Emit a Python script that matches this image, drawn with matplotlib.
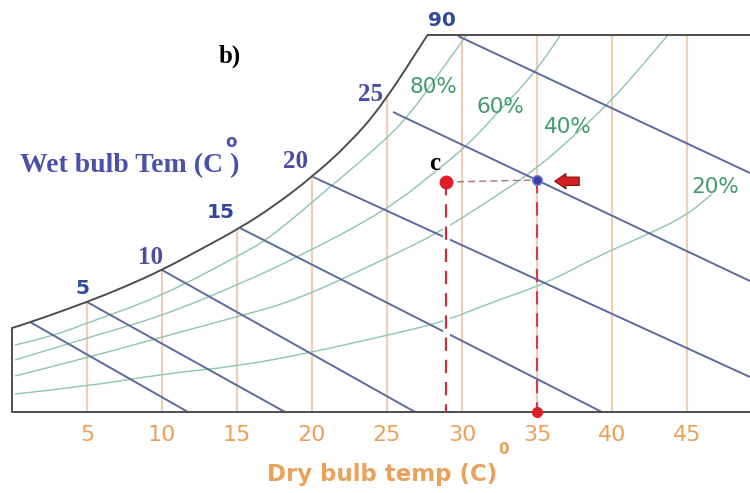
import numpy as np
import matplotlib
matplotlib.use('Agg')
import matplotlib.pyplot as plt
from matplotlib.path import Path
from matplotlib.patches import PathPatch, Polygon, FancyArrowPatch

# dry bulb temperature ticks (C)
dryBulbTicks = [5, 10, 15, 20, 25, 30, 35, 40, 45]

# saturation curve: dry bulb (C) vs humidity ratio (g/kg)
satTemp = [0, 1.3, 5, 7.5, 10, 12.5, 15.2, 17.5, 20, 22.5, 24.7, 27.7]
satHum = [6.72, 7.2, 8.8, 10.0, 11.36, 12.96, 14.72, 16.5, 18.8, 21.5, 24.56, 30.16]
topHum = 30.16
rightTemp = 49.2

# wet bulb lines (start near saturation, end at chart edge)
wetStartTemp = [1.2, 5, 10, 15.2, 20.07, 25.4, 29.73]
wetStartHum = [7.2, 8.8, 11.36, 14.72, 18.8, 24.0, 30.08]
wetEndTemp = [11.73, 18.2, 26.87, 39.33, 49.2, 49.2, 49.2]
wetEndHum = [0, 0, 0, 0, 2.8, 10.48, 19.12]

# wet bulb labels on the saturation curve
wetLabels = ['5', '10', '15', '20', '25', '90']
wetLabelTemp = [4.67, 9.2, 13.93, 18.87, 23.87, 28.67]
wetLabelHum = [9.84, 12.32, 15.92, 20.0, 25.36, 31.28]
wetLabelSerif = [False, True, False, True, True, False]

# relative humidity curves
rh80Temp = [0.2, 2.53, 5.2, 10, 15.2, 17.2, 21.2, 24.53, 26.53, 28.53, 30.27]
rh80Hum = [5.36, 6.0, 7.2, 9.28, 12.56, 13.92, 18.0, 21.36, 23.8, 27.2, 30.08]
rh60Temp = [0.2, 5.2, 10, 15.2, 19.2, 25, 28.53, 30.53, 32.53, 34.73, 36.53]
rh60Hum = [4.16, 6.0, 7.68, 10.24, 12.48, 16.16, 19.52, 21.52, 24.16, 26.96, 30.08]
rh40Temp = [0.2, 5.2, 10, 15.2, 19, 25, 28.53, 31.87, 34.87, 37.53, 39.87, 41.87, 43.67]
rh40Hum = [2.88, 4.4, 6.0, 7.68, 8.96, 12.32, 14.4, 16.96, 19.36, 22.16, 24.8, 27.52, 30.08]
rh20Temp = [0.2, 5.2, 10, 15.2, 20.07, 24.2, 28.53, 31.87, 35.67, 39.2, 42.73, 45, 46.67]
rh20Hum = [1.44, 2.08, 3.04, 3.68, 4.8, 5.92, 7.12, 8.72, 10.32, 12.56, 14.4, 15.76, 17.44]

rhLabels = ['80%', '60%', '40%', '20%']
rhLabelTemp = [28.07, 32.53, 37.07, 46.87]
rhLabelHum = [26.0, 24.4, 22.8, 18.0]

# state points
pointC = (28.93, 18.4)
pointBlue = (35.0, 18.56)

BOUND = '#4d4d4d'
WETCOL = '#5b6aa0'
RHCOL = '#8cc5ad'
VERTCOL = '#f1cfae'
ORANGE = '#e9a15c'
GREENTXT = '#3f9a6e'


def smoothPath(xs, ys):
    """Quadratic bezier through the read points (points used as controls)."""
    verts = [(xs[0], ys[0])]
    codes = [Path.MOVETO]
    for i in range(1, len(xs) - 1):
        verts += [(xs[i], ys[i]), ((xs[i] + xs[i + 1]) / 2, (ys[i] + ys[i + 1]) / 2)]
        codes += [Path.CURVE3, Path.CURVE3]
    verts.append((xs[-1], ys[-1]))
    codes.append(Path.LINETO)
    return Path(verts, codes)


def drawChart(ax):
    # clip region of the chart
    clipVerts = [(0, 0)] + list(zip(satTemp, satHum)) + [(rightTemp, topHum), (rightTemp, 0)]
    clip = Polygon(clipVerts, closed=True, transform=ax.transData, fill=False, lw=0)
    ax.add_patch(clip)

    # vertical dry bulb lines
    vl = ax.vlines(dryBulbTicks, 0, topHum + 1, colors=VERTCOL, lw=1.5, zorder=1)
    vl.set_clip_path(clip)

    # relative humidity curves
    for xs, ys in [(rh80Temp, rh80Hum), (rh60Temp, rh60Hum), (rh40Temp, rh40Hum), (rh20Temp, rh20Hum)]:
        p = PathPatch(smoothPath(xs, ys), fill=False, ec=RHCOL, lw=1.0, zorder=2)
        ax.add_patch(p)
        p.set_clip_path(clip)

    # wet bulb lines
    for i in range(len(wetStartTemp)):
        ln, = ax.plot([wetStartTemp[i], wetEndTemp[i]], [wetStartHum[i], wetEndHum[i]],
                      color=WETCOL, lw=1.4, zorder=3, solid_capstyle='butt')
        ln.set_clip_path(clip)

    # boundary
    sat = PathPatch(smoothPath(satTemp, satHum), fill=False, ec=BOUND, lw=1.4, zorder=5)
    ax.add_patch(sat)
    ax.plot([0, 0, rightTemp], [satHum[0], 0, 0], color=BOUND, lw=1.4, zorder=5)
    ax.plot([satTemp[-1], rightTemp], [topHum, topHum], color=BOUND, lw=1.4, zorder=5)


def drawLabels(ax):
    sans = 'DejaVu Sans'
    serif = 'Liberation Serif'
    for t in dryBulbTicks:
        ax.text(t, -1.84, str(t), color=ORANGE, fontsize=16, family=sans,
                ha='center', va='center')
    ax.text(17.0, -4.96, 'Dry bulb temp (C)', color=ORANGE, fontsize=16.5,
            family=sans, weight='bold', ha='left', va='center')
    ax.text(32.75, -3.0, '0', color=ORANGE, fontsize=11, family=sans,
            weight='bold', ha='center', va='center')

    for lab, x, y, sf in zip(wetLabels, wetLabelTemp, wetLabelHum, wetLabelSerif):
        ax.text(x, y, lab, color='#4a4ca6' if sf else '#32489a', fontsize=18 if sf else 14.5,
                family=serif if sf else sans, weight='bold', ha='center', va='center')
    ax.text(0.53, 19.7, 'Wet bulb Tem (C )', color='#4b50a8', fontsize=20,
            family=serif, weight='bold', ha='left', va='center')
    ax.text(14.6, 21.6, 'o', color='#4b50a8', fontsize=12, family='DejaVu Sans',
            weight='bold', ha='center', va='center')

    for lab, x, y in zip(rhLabels, rhLabelTemp, rhLabelHum):
        ax.text(x, y, lab, color=GREENTXT, fontsize=15.5, family=sans,
                ha='center', va='center', zorder=6)

    ax.text(14.53, 28.48, 'b)', color='black', fontsize=18, family=serif,
            weight='bold', ha='center', va='center')
    ax.text(28.2, 19.9, 'c', color='black', fontsize=18, family=serif,
            weight='bold', ha='center', va='center', zorder=8)


def drawPoints(ax):
    # vertical dashed line from c, with white gap around it
    ax.plot([pointC[0], pointC[0]], [pointC[1], 0.15], color='white', lw=5, zorder=4)
    ax.plot([pointC[0], pointC[0]], [pointC[1], 0], color='#c83040', lw=1.6,
            dashes=(6, 4), zorder=6)
    ax.plot([pointBlue[0], pointBlue[0]], [pointBlue[1], 0], color='#c84050', lw=1.6,
            dashes=(6, 4), zorder=6)
    ax.plot([pointC[0], pointBlue[0]], [pointC[1], pointBlue[1]], color='#b07080',
            lw=1.0, dashes=(5, 3), zorder=6)
    ax.plot(*pointC, 'o', color='#e01e2a', ms=9, zorder=7)
    ax.plot(pointBlue[0], 0, 'o', color='#e01e2a', ms=7, zorder=7)
    ax.plot(*pointBlue, 'o', color='#3a3fa8', mec='#7a84d0', ms=7, mew=1, zorder=7)
    arrow = FancyArrowPatch((pointBlue[0] + 3.0, pointBlue[1] - 0.1), (pointBlue[0] + 1.0, pointBlue[1] - 0.1),
                            arrowstyle='simple,head_length=8,head_width=11,tail_width=6',
                            mutation_scale=1, fc='#d42020', ec='#7a1010', lw=0.8, zorder=8)
    ax.add_patch(arrow)


if __name__ == '__main__':
    fig = plt.figure(figsize=(7.5, 4.93), dpi=100)
    ax = fig.add_axes([0, 0, 1, 1])
    ax.set_xlim(-0.8, 49.2)
    ax.set_ylim(-6.48, 32.96)
    ax.axis('off')
    drawChart(ax)
    drawLabels(ax)
    drawPoints(ax)
    fig.savefig('out.png', dpi=100)
